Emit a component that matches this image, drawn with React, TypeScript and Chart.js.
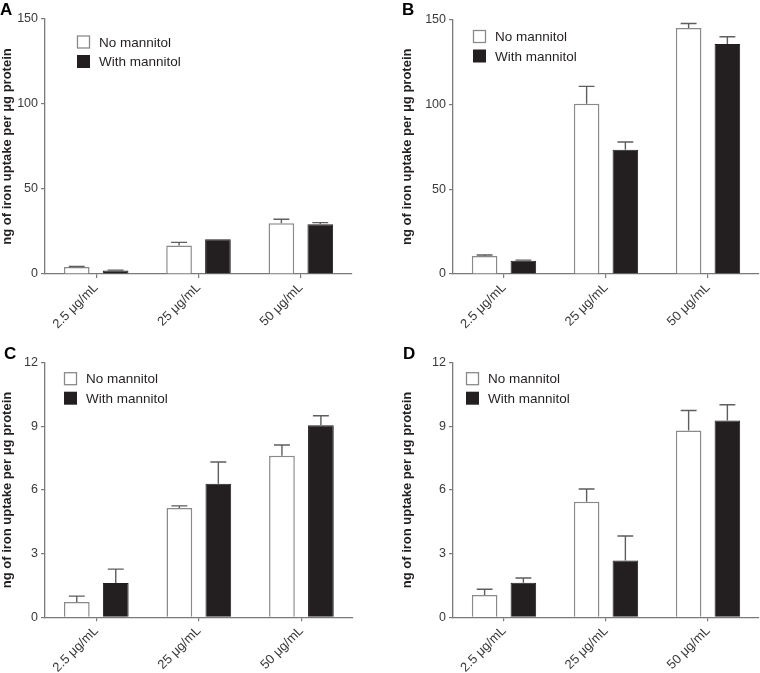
import React, { useEffect, useRef } from 'react';
import { Chart, registerables } from 'chart.js';

Chart.register(...registerables);

const categories = ['2.5 μg/mL', '25 μg/mL', '50 μg/mL'];
const seriesNames = ['No mannitol', 'With mannitol'];
const yTitle = 'ng of iron uptake per μg protein';

const yTicksTop = [0, 50, 100, 150];
const yTicksBottom = [0, 3, 6, 9, 12];

// Panel A
const aNoMannitol = [4.1, 16.8, 29.8];
const aNoMannitolErr = [0.3, 1.8, 2.4];
const aWithMannitol = [2.0, 20.4, 29.2];
const aWithMannitolErr = [0.3, 0, 1.0];

// Panel B
const bNoMannitol = [10.6, 100.4, 145.0];
const bNoMannitolErr = [0.6, 10.2, 2.6];
const bWithMannitol = [7.8, 73.3, 135.5];
const bWithMannitolErr = [0.4, 4.5, 4.3];

// Panel C
const cNoMannitol = [0.72, 5.15, 7.62];
const cNoMannitolErr = [0.28, 0.1, 0.5];
const cWithMannitol = [1.62, 6.3, 9.05];
const cWithMannitolErr = [0.65, 1.02, 0.45];

// Panel D
const dNoMannitol = [1.05, 5.45, 8.8];
const dNoMannitolErr = [0.27, 0.6, 0.95];
const dWithMannitol = [1.63, 2.68, 9.27];
const dWithMannitolErr = [0.22, 1.15, 0.75];

const FONT = "'Liberation Sans', Arial, Helvetica, sans-serif";
const AXIS = '#7a7a7a';
const TICK_TXT = '#3a3a3a';
const BLACK = '#231f20';

type PanelProps = {
  letter: string;
  noM: number[];
  noMErr: number[];
  withM: number[];
  withMErr: number[];
  yTicks: number[];
  left: number;
  top: number;
  w: number;
  h: number;
  padL: number;
  yW: number;
  padT: number;
  padR: number;
  xH: number;
  legX: number;
  legY: number;
  letX: number;
  letY: number;
};

function Panel(p: PanelProps) {
  const ref = useRef<HTMLCanvasElement | null>(null);
  useEffect(() => {
    if (!ref.current) return;
    const errPlugin = {
      id: 'errbars' + p.letter,
      afterDatasetsDraw(chart: any) {
        const ctx = chart.ctx;
        const ys = chart.scales.y;
        chart.data.datasets.forEach((ds: any, di: number) => {
          const meta = chart.getDatasetMeta(di);
          meta.data.forEach((bar: any, i: number) => {
            const e = ds.errors[i];
            if (!e) return;
            const v = ds.data[i];
            const { x, y, width } = bar.getProps(['x', 'y', 'width'], true);
            const yTop = ys.getPixelForValue(v + e);
            ctx.save();
            ctx.strokeStyle = '#5e5e5e';
            ctx.lineWidth = 1.4;
            ctx.beginPath();
            ctx.moveTo(x, y);
            ctx.lineTo(x, yTop);
            ctx.moveTo(x - width * 0.31, yTop);
            ctx.lineTo(x + width * 0.31, yTop);
            ctx.stroke();
            ctx.restore();
          });
        });
      },
    };
    const decoPlugin = {
      id: 'deco' + p.letter,
      afterDraw(chart: any) {
        const ctx = chart.ctx;
        ctx.save();
        // panel letter
        ctx.fillStyle = '#000';
        ctx.font = `bold 17px ${FONT}`;
        ctx.textAlign = 'left';
        ctx.textBaseline = 'alphabetic';
        ctx.fillText(p.letter, p.letX, p.letY);
        // legend
        const box = 13;
        ctx.font = `13.5px ${FONT}`;
        ctx.textBaseline = 'middle';
        seriesNames.forEach((name, i) => {
          const cy = p.legY + i * 19.5;
          if (i === 0) {
            ctx.fillStyle = '#fff';
            ctx.fillRect(p.legX, cy - box / 2, box, box);
            ctx.strokeStyle = '#8a8a8a';
            ctx.lineWidth = 1.3;
            ctx.strokeRect(p.legX + 0.5, cy - box / 2 + 0.5, box - 1, box - 1);
          } else {
            ctx.fillStyle = BLACK;
            ctx.fillRect(p.legX, cy - box / 2, box, box);
          }
          ctx.fillStyle = BLACK;
          ctx.fillText(name, p.legX + box + 9, cy + 1);
        });
        ctx.restore();
      },
    };
    const chart = new Chart(ref.current, {
      type: 'bar',
      data: {
        labels: categories,
        datasets: [
          {
            label: seriesNames[0],
            data: p.noM,
            errors: p.noMErr,
            backgroundColor: '#ffffff',
            borderColor: '#8a8a8a',
            borderWidth: 1.5,
            categoryPercentage: 0.76,
            barPercentage: 0.66,
          } as any,
          {
            label: seriesNames[1],
            data: p.withM,
            errors: p.withMErr,
            backgroundColor: BLACK,
            borderColor: BLACK,
            borderWidth: 1,
            categoryPercentage: 0.76,
            barPercentage: 0.66,
          } as any,
        ],
      },
      options: {
        responsive: false,
        animation: false,
        layout: { padding: { left: p.padL, top: p.padT, right: p.padR, bottom: 0 } },
        plugins: { legend: { display: false }, tooltip: { enabled: false } },
        scales: {
          x: {
            offset: true,
            grid: {
              offset: false,
              drawOnChartArea: false,
              drawTicks: true,
              tickLength: 4,
              color: AXIS,
              lineWidth: 1.2,
            },
            border: { display: true, color: AXIS, width: 1.3 },
            ticks: {
              autoSkip: false,
              maxRotation: 45,
              minRotation: 45,
              padding: 2,
              color: TICK_TXT,
              font: { family: FONT, size: 13 },
            },
            afterFit: (s: any) => {
              s.height = p.xH;
            },
          },
          y: {
            min: p.yTicks[0],
            max: p.yTicks[p.yTicks.length - 1],
            afterBuildTicks: (s: any) => {
              s.ticks = p.yTicks.map((v) => ({ value: v }));
            },
            grid: {
              drawOnChartArea: false,
              drawTicks: true,
              tickLength: 4,
              color: AXIS,
              lineWidth: 1.2,
            },
            border: { display: true, color: AXIS, width: 1.3 },
            ticks: {
              padding: 3,
              color: TICK_TXT,
              font: { family: FONT, size: 12.5 },
            },
            title: {
              display: true,
              text: yTitle,
              color: BLACK,
              padding: 0,
              font: { family: FONT, size: 13, weight: 'bold' },
            },
            afterFit: (s: any) => {
              s.width = p.yW;
            },
          },
        },
      },
      plugins: [errPlugin, decoPlugin],
    });
    return () => chart.destroy();
  }, []);
  return (
    <div style={{ position: 'absolute', left: p.left, top: p.top, width: p.w, height: p.h }}>
      <canvas ref={ref} width={p.w} height={p.h} style={{ display: 'block' }} />
    </div>
  );
}

export default function App() {
  return (
    <div style={{ position: 'absolute', left: 0, top: 0, width: 760, height: 673, background: '#fff' }}>
      <Panel
        letter="A"
        noM={aNoMannitol}
        noMErr={aNoMannitolErr}
        withM={aWithMannitol}
        withMErr={aWithMannitolErr}
        yTicks={yTicksTop}
        left={0}
        top={0}
        w={380}
        h={330}
        padL={0}
        yW={45}
        padT={19}
        padR={28}
        xH={56}
        legX={77}
        legY={42}
        letX={0}
        letY={15}
      />
      <Panel
        letter="B"
        noM={bNoMannitol}
        noMErr={bNoMannitolErr}
        withM={bWithMannitol}
        withMErr={bWithMannitolErr}
        yTicks={yTicksTop}
        left={380}
        top={0}
        w={380}
        h={330}
        padL={20}
        yW={53}
        padT={19.5}
        padR={1}
        xH={56}
        legX={93}
        legY={36.5}
        letX={22}
        letY={15}
      />
      <Panel
        letter="C"
        noM={cNoMannitol}
        noMErr={cNoMannitolErr}
        withM={cWithMannitol}
        withMErr={cWithMannitolErr}
        yTicks={yTicksBottom}
        left={0}
        top={330}
        w={380}
        h={343}
        padL={0}
        yW={45}
        padT={32.7}
        padR={27.3}
        xH={55.7}
        legX={64}
        legY={48.7}
        letX={4}
        letY={28.5}
      />
      <Panel
        letter="D"
        noM={dNoMannitol}
        noMErr={dNoMannitolErr}
        withM={dWithMannitol}
        withMErr={dWithMannitolErr}
        yTicks={yTicksBottom}
        left={380}
        top={330}
        w={380}
        h={343}
        padL={20}
        yW={53}
        padT={32.7}
        padR={1}
        xH={55.7}
        legX={86}
        legY={48.7}
        letX={23}
        letY={28.5}
      />
    </div>
  );
}
